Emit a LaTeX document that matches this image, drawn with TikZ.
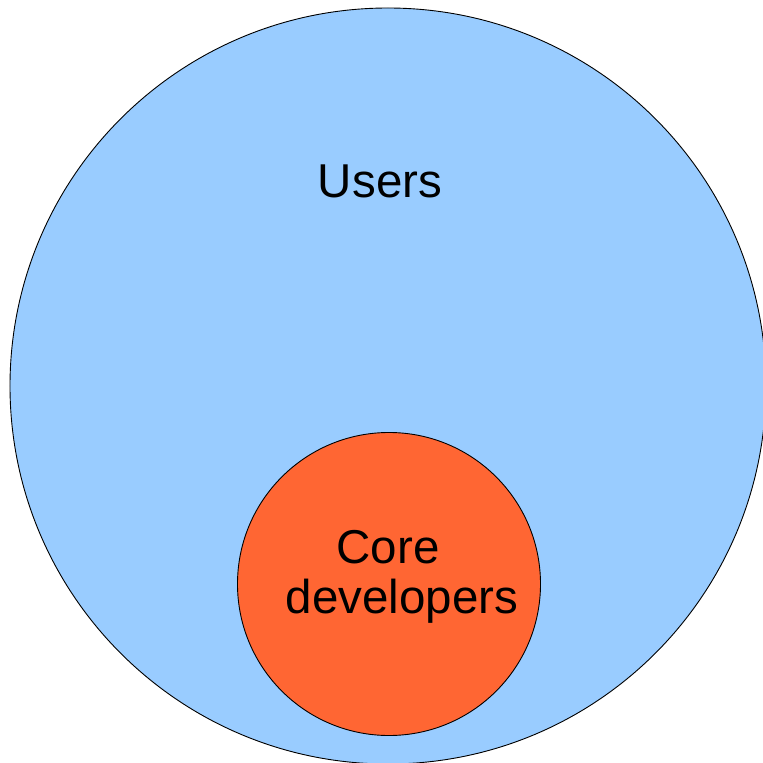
\documentclass[tikz,border=0pt]{standalone}
\usepackage{fontspec}
\setmainfont{Liberation Sans}
\definecolor{userblue}{HTML}{99CCFF}
\definecolor{coreorange}{HTML}{FF6633}
\begin{document}
\begin{tikzpicture}[x=1bp,y=-1bp,
  setcircle/.style={circle, draw=black, line width=0.9bp, inner sep=0pt},
  lbl/.style={font=\fontsize{47.5bp}{52bp}\selectfont, inner sep=0pt, anchor=base}]
\useasboundingbox (0,0) rectangle (763,763);
\node[setcircle, fill=userblue, minimum size=756bp] (users) at (388,386) {};
\node[setcircle, fill=coreorange, minimum size=303bp] (core) at (389,584) {};
\node[lbl] (userslbl) at (380,197) {Users};
\node[lbl] (corelbl) at (388,563) {Core};
\node[lbl] (devlbl) at (402,613) {developers};
\end{tikzpicture}
\end{document}
